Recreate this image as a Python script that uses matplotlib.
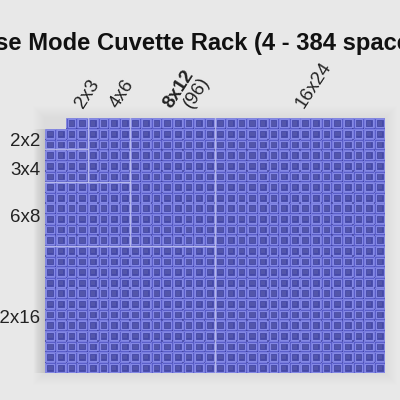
import matplotlib
matplotlib.use("Agg")
import matplotlib.pyplot as plt
from matplotlib.patches import Rectangle
from matplotlib.collections import PatchCollection

plt.rcParams['font.family'] = ['Liberation Sans', 'DejaVu Sans']

title = "Reverse Mode Cuvette Rack (4 - 384 spaces)"
n_cols = 32
n_rows = 24
missing_cells = [(0, 0), (1, 0)]
left_labels = ["2x2", "3x4", "6x8", "12x16"]
left_pos = [2.0, 4.75, 9.15, 18.65]
top_labels = ["2x3", "4x6", "8x12", "(96)", "16x24"]
top_pos = [3.85, 7.15, 12.2, 14.15, 24.7]
top_weight = ["normal", "normal", "bold", "normal", "normal"]
region_h = [(2.9, 0, 4), (6, 0, 8), (12, 0, 16)]
region_v = [(4, 0, 6), (8, 0, 12), (16, 0, 24)]

fig = plt.figure(figsize=(4, 4), dpi=100, facecolor="#e8e8e8")
ax = fig.add_axes([45/400, 27/400, 340/400, 255/400])
ax.set_xlim(0, n_cols)
ax.set_ylim(n_rows, 0)
ax.set_facecolor("none")
for s in ax.spines.values():
    s.set_visible(False)

px = 1/10.625
# soft shadow around the rack
for k in range(1, 13):
    ax.add_patch(Rectangle((-k*px, -k*px), n_cols+2*k*px, n_rows+2*k*px,
                           fc="#b0b0b0", ec="none", alpha=0.012, clip_on=False, zorder=0))
for k in range(1, 12):
    ax.add_patch(Rectangle((-k*px, 1), k*px, n_rows-1,
                           fc="#a0a0a0", ec="none", alpha=0.035, clip_on=False, zorder=0))
bg, outer, inner, dots = [], [], [], []
for r in range(n_rows):
    for c in range(n_cols):
        if (c, r) in missing_cells:
            continue
        bg.append(Rectangle((c, r), 1, 1))
        outer.append(Rectangle((c+0.13, r+0.13), 0.74, 0.74))
        inner.append(Rectangle((c+0.3, r+0.3), 0.42, 0.42))
        dots.append(Rectangle((c-0.06, r-0.06), 0.12, 0.12))
ax.add_collection(PatchCollection(bg, fc="#585cc8", ec="#7d81e4", lw=0.5, zorder=2))
ax.add_collection(PatchCollection(outer, fc="#4549a8", ec="#8488e4", lw=0.85, zorder=3))
ax.add_collection(PatchCollection(inner, fc="#5356ab", ec="none", zorder=4))
ax.add_collection(PatchCollection(dots[n_cols:], fc="#2a2c80", ec="none", alpha=0.5, zorder=5))

for y, x0, x1 in region_h:
    ax.plot([x0, x1], [y, y], color="#c5c7ee", lw=1.0, alpha=0.8, zorder=6)
for x, y0, y1 in region_v:
    ax.plot([x, x], [y0, y1], color="#c5c7ee", lw=1.0, alpha=0.8, zorder=6)

ax.set_yticks(left_pos, left_labels, fontsize=13.5, color="#222222")
ax.tick_params(axis="y", length=0, pad=3)
ax.xaxis.tick_top()
ax.set_xticks(top_pos, top_labels, fontsize=13.5, color="#222222", rotation=57,
              ha="left", va="bottom", rotation_mode="anchor")
ax.tick_params(axis="x", length=0, pad=5)
for t, w in zip(ax.get_xticklabels(), top_weight):
    t.set_fontweight(w)

fig.text(180/400, 1-50/400, title, ha="center", va="baseline", fontsize=17.1,
         fontweight="bold", color="#111111")
fig.savefig("out.png", dpi=100, facecolor=fig.get_facecolor())
